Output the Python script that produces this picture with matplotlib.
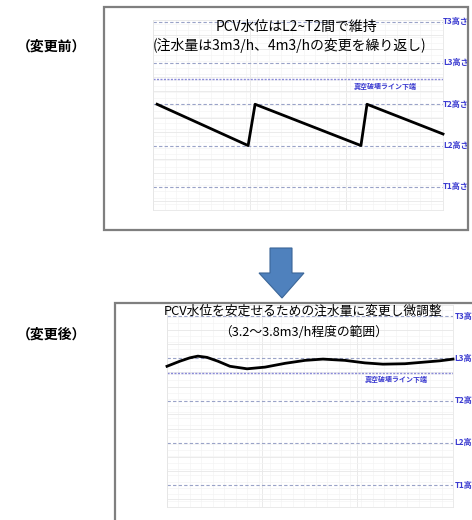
import matplotlib
matplotlib.use("Agg")
import matplotlib.pyplot as plt
from matplotlib.patches import Rectangle, Polygon

plt.rcParams['font.family'] = ['Noto Sans CJK JP', 'DejaVu Sans']

# ---- data ----
level_names = ["T1高さ", "L2高さ", "T2高さ", "L3高さ", "T3高さ"]
level_values = [0, 1, 2, 3, 4]
vacuum_label = "真空破壊ライン下端"
vacuum_level_before = 2.6
vacuum_level_after = 2.65

before_x = [1.4, 32.8, 35.2, 71.7, 73.8, 100]
before_y = [2.0, 1.0, 2.0, 1.0, 2.0, 1.28]

after_x = [0, 4.5, 8.0, 10.8, 14.0, 17.8, 22.0, 28.0, 34.3, 41.3, 48.3, 54.5,
           62.2, 69.2, 75.5, 83.2, 90.2, 95.5, 100]
after_y = [2.81, 2.93, 3.01, 3.05, 3.02, 2.93, 2.81, 2.75, 2.79, 2.88, 2.95, 2.98,
           2.95, 2.89, 2.86, 2.87, 2.91, 2.94, 2.98]

before_title = ["PCV水位はL2~T2間で維持", "(注水量は3m3/h、4m3/hの変更を繰り返し)"]
after_title = ["PCV水位を安定せるための注水量に変更し微調整", "（3.2～3.8m3/h程度の範囲）"]
panel_labels = ["（変更前）", "（変更後）"]

W, H = 472, 520
fig = plt.figure(figsize=(W / 100, H / 100), dpi=100)


def fx(px):
    return px / W


def fy(py):
    return 1 - py / H


# frames
fig.patches.append(Rectangle((fx(104), fy(230)), fx(468) - fx(104), fy(7) - fy(230),
                             transform=fig.transFigure, fill=False,
                             edgecolor="#7f7f7f", lw=1.6))
fig.patches.append(Rectangle((fx(115), -0.1), 1.0, fy(303) + 0.1,
                             transform=fig.transFigure, fill=False,
                             edgecolor="#7f7f7f", lw=1.6))

line_col = "#9aa3c8"
lab_col = "#3a3ad0"


def setup(ax, ylim, vac, label_dx):
    ax.set_xlim(0, 100)
    ax.set_ylim(*ylim)
    ax.set_xticks([])
    ax.set_yticks([])
    for s in ax.spines.values():
        s.set_color("#e6e6e6")
        s.set_linewidth(0.6)
    # faint grid
    for gx in range(0, 101, 4):
        ax.axvline(gx, color="#f4f4f4", lw=0.5, zorder=0)
    for gx in (0, 33.3, 66.6, 100):
        ax.axvline(gx, color="#e6e6e6", lw=0.6, zorder=0)
    y = ylim[0]
    while y < ylim[1]:
        ax.axhline(y, color="#f4f4f4", lw=0.5, zorder=0)
        y += 0.15
    for lv in level_values:
        ax.axhline(lv + 0.33, color="#e8e8e8", lw=0.6, zorder=0)
        ax.axhline(lv - 0.33, color="#e8e8e8", lw=0.6, zorder=0)
    for name, lv in zip(level_names, level_values):
        ax.axhline(lv, color=line_col, lw=0.8, ls=(0, (3, 2)), zorder=1)
        ax.text(1.0 + label_dx, lv, name, transform=ax.get_yaxis_transform(),
                ha="left", va="center", fontsize=5.8, fontweight="bold",
                color=lab_col, clip_on=False)
    ax.axhline(vac, color="#8a8ad8", lw=1.0, ls=(0, (1.5, 1)), zorder=1)
    ax.text(80, vac - 0.08, vacuum_label, ha="center", va="top", fontsize=5,
            fontweight="bold", color=lab_col)


# top axes
ax1 = fig.add_axes([fx(153), fy(210), fx(443) - fx(153), fy(20) - fy(210)])
setup(ax1, (-0.56, 4.04), vacuum_level_before, 0.0)
ax1.plot(before_x, before_y, color="black", lw=2.0, zorder=3, clip_on=False)
fig.text(fx(296), fy(27), before_title[0], ha="center", va="center", fontsize=10)
fig.text(fx(290), fy(45), before_title[1], ha="center", va="center", fontsize=10)

# bottom axes
ax2 = fig.add_axes([fx(167), fy(507), fx(453) - fx(167), fy(305) - fy(507)])
setup(ax2, (-0.52, 4.26), vacuum_level_after, 0.005)
ax2.plot(after_x, after_y, color="black", lw=2.0, zorder=3, clip_on=False)
fig.text(fx(303), fy(311), after_title[0], ha="center", va="center", fontsize=9.2)
fig.text(fx(304), fy(332), after_title[1], ha="center", va="center", fontsize=9.2)

# panel labels
fig.text(fx(52), fy(47), panel_labels[0], ha="center", va="center",
         fontsize=10, fontweight="bold")
fig.text(fx(52), fy(335), panel_labels[1], ha="center", va="center",
         fontsize=10, fontweight="bold")

# arrow
arrow_px = [(270, 248), (292, 248), (292, 273), (304, 273), (282, 298),
            (259, 273), (270, 273)]
fig.patches.append(Polygon([(fx(x), fy(y)) for x, y in arrow_px], closed=True,
                           transform=fig.transFigure, facecolor="#4f81bd",
                           edgecolor="#3b6698", lw=0.8))

fig.savefig("out.png", dpi=100)
